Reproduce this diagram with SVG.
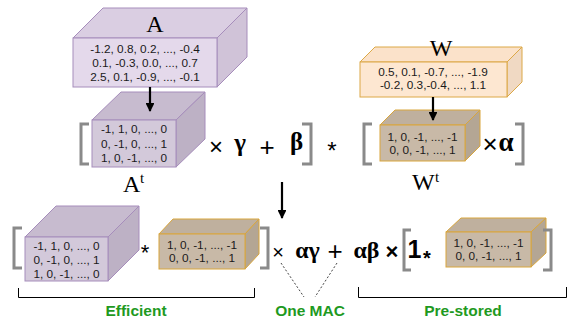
<svg xmlns="http://www.w3.org/2000/svg" width="568" height="320" viewBox="0 0 568 320">
  <defs>
    <marker id="head" viewBox="0 0 10 10" refX="9" refY="5" markerWidth="4" markerHeight="4" markerUnits="strokeWidth" orient="auto">
      <path d="M0,0 L10,5 L0,10 Z" fill="#000"/>
    </marker>
    <style>
      .num { font-family: "Liberation Sans", Arial, sans-serif; font-size: 11.8px; fill: #1a1a1a; text-anchor: middle; }
      .lbl { font-family: "Liberation Serif", "Times New Roman", serif; font-size: 24px; fill: #000; }
      .sup { font-family: "Liberation Serif", "Times New Roman", serif; font-size: 15px; fill: #000; }
      .greek { font-family: "Liberation Serif", "Times New Roman", serif; font-weight: bold; fill: #000; text-anchor: middle; }
      .op { font-family: "Liberation Sans", Arial, sans-serif; fill: #000; text-anchor: middle; }
      .note { font-family: "Liberation Sans", Arial, sans-serif; font-weight: bold; font-size: 15.5px; fill: #1f9a1f; text-anchor: middle; }
      .brk { fill: none; stroke: #8a8a8a; stroke-width: 3; }
      .span { fill: none; stroke: #000; stroke-width: 1; }
      .arrow { fill: none; stroke: #000; stroke-width: 2.2; marker-end: url(#head); }
      .dots { fill: none; stroke: #444; stroke-width: 1; stroke-dasharray: 2 2; }
      /* light purple (full precision activations) */
      .pl-front { fill: #e4d9eb; stroke: #a68dbb; stroke-width: 1; }
      .pl-top { fill: #dacee2; stroke: #a68dbb; stroke-width: 1; }
      .pl-side { fill: #d0c3d8; stroke: #a68dbb; stroke-width: 1; }
      /* darker purple (ternary activations) */
      .pd-front { fill: #d3c9da; stroke: #a68dbb; stroke-width: 1; }
      .pd-top { fill: #c7bbcf; stroke: #a68dbb; stroke-width: 1; }
      .pd-side { fill: #bdb1c5; stroke: #a68dbb; stroke-width: 1; }
      /* light orange (full precision weights) */
      .ol-front { fill: #fde7d1; stroke: #dca846; stroke-width: 1; }
      .ol-top { fill: #fbe2ca; stroke: #dca846; stroke-width: 1; }
      .ol-side { fill: #f0d9c3; stroke: #dca846; stroke-width: 1; }
      /* tan (ternary weights) */
      .t-front { fill: #c8b9a7; stroke: #d9a63c; stroke-width: 1; }
      .t-top { fill: #bfb09e; stroke: #d9a63c; stroke-width: 1; }
      .t-side { fill: #b4a694; stroke: #d9a63c; stroke-width: 1; }
    </style>
  </defs>

  <!-- full precision activations A -->
  <g id="A">
    <path class="pl-top" d="M73,38 L103,8 L247,8 L217,38 Z"/>
    <path class="pl-side" d="M217,38 L247,8 L247,57 L217,87 Z"/>
    <rect class="pl-front" x="73" y="38" width="144" height="49"/>
    <text class="lbl" x="155" y="32" text-anchor="middle">A</text>
    <text class="num" x="145" y="52.5">-1.2, 0.8, 0.2, ..., -0.4</text>
    <text class="num" x="145" y="66.5">0.1, -0.3, 0.0, ..., 0.7</text>
    <text class="num" x="145" y="80.5">2.5, 0.1, -0.9, ..., -0.1</text>
  </g>

  <!-- ternary activations At -->
  <g id="At">
    <path class="pd-top" d="M92,120 L121,92 L205,92 L176,120 Z"/>
    <path class="pd-side" d="M176,120 L205,92 L205,139 L176,167 Z"/>
    <rect class="pd-front" x="92" y="120" width="84" height="47"/>
    <text class="num" x="134" y="133">-1, 1, 0, ..., 0</text>
    <text class="num" x="134" y="147.5">0, -1, 0, ..., 1</text>
    <text class="num" x="134" y="162">1, 0, -1, ..., 0</text>
    <text class="lbl" x="123" y="192">A</text>
    <text class="sup" x="140" y="183">t</text>
  </g>

  <!-- full precision weights W -->
  <g id="W">
    <path class="ol-top" d="M360,62 L375,47 L522,47 L507,62 Z"/>
    <path class="ol-side" d="M507,62 L522,47 L522,82 L507,97 Z"/>
    <rect class="ol-front" x="360" y="62" width="147" height="35"/>
    <text class="lbl" x="441" y="56" text-anchor="middle">W</text>
    <text class="num" x="433" y="76">0.5, 0.1, -0.7, ..., -1.9</text>
    <text class="num" x="433" y="89">-0.2, 0.3,-0.4, ...,  1.1</text>
  </g>

  <!-- ternary weights Wt -->
  <g id="Wt">
    <path class="t-top" d="M380,125 L395,110 L480,110 L465,125 Z"/>
    <path class="t-side" d="M465,125 L480,110 L480,146 L465,161 Z"/>
    <rect class="t-front" x="380" y="125" width="85" height="36"/>
    <text class="num" x="422.5" y="140.5">1, 0, -1, ..., -1</text>
    <text class="num" x="422.5" y="153.5">0, 0, -1, ...,  1</text>
    <text class="lbl" x="412" y="190">W</text>
    <text class="sup" x="435" y="182">t</text>
  </g>

  <!-- row 2 operators: [At x gamma + beta] * [Wt x alpha] -->
  <g id="row2-ops">
    <path class="brk" d="M89,124 H81 V164 H89"/>
    <text class="op" x="216" y="155" font-size="24">×</text>
    <text class="greek" x="240" y="151" font-size="25">γ</text>
    <text class="op" x="267" y="155.5" font-size="26">+</text>
    <text class="greek" x="296.5" y="150" font-size="25">β</text>
    <path class="brk" d="M302,124 H311 V164 H302"/>
    <text class="op" x="332" y="159" font-size="24">*</text>
    <path class="brk" d="M372,124 H364 V164 H372"/>
    <text class="op" x="490" y="153" font-size="26">×</text>
    <text class="greek" x="506" y="151" font-size="27">α</text>
    <path class="brk" d="M515,124 H523 V164 H515"/>
  </g>

  <!-- bottom row: ternary activations -->
  <g id="At-bottom">
    <path class="pd-top" d="M25,237 L56,206 L139,206 L108,237 Z"/>
    <path class="pd-side" d="M108,237 L139,206 L139,250 L108,281 Z"/>
    <rect class="pd-front" x="25" y="237" width="83" height="44"/>
    <text class="num" x="66.5" y="249.5">-1, 1, 0, ..., 0</text>
    <text class="num" x="66.5" y="263.5">0, -1, 0, ..., 1</text>
    <text class="num" x="66.5" y="277.5">1, 0, -1, ..., 0</text>
  </g>

  <!-- bottom row: ternary weights (multiplied with activations) -->
  <g id="Wt-bottom">
    <path class="t-top" d="M159,234 L173,219 L259,219 L245,234 Z"/>
    <path class="t-side" d="M245,234 L259,219 L259,254 L245,269 Z"/>
    <rect class="t-front" x="159" y="234" width="86" height="35"/>
    <text class="num" x="202" y="249">1, 0, -1, ..., -1</text>
    <text class="num" x="202" y="262">0, 0, -1, ...,  1</text>
  </g>

  <!-- bottom row: ternary weights (pre-stored term) -->
  <g id="Wt-prestored">
    <path class="t-top" d="M446,232 L461,218 L546,218 L531,232 Z"/>
    <path class="t-side" d="M531,232 L546,218 L546,253 L531,267 Z"/>
    <rect class="t-front" x="446" y="232" width="85" height="35"/>
    <text class="num" x="488.5" y="247">1, 0, -1, ..., -1</text>
    <text class="num" x="488.5" y="260">0, 0, -1, ...,  1</text>
  </g>

  <!-- bottom row operators -->
  <g id="row3-ops">
    <path class="brk" d="M22,228 H14 V268 H22"/>
    <text class="op" x="145" y="260" font-size="22">*</text>
    <path class="brk" d="M260,228 H268 V268 H260"/>
    <text class="op" x="278" y="259" font-size="20">×</text>
    <text class="greek" x="307.5" y="258" font-size="24">αγ</text>
    <text class="op" x="335" y="260" font-size="26">+</text>
    <text class="greek" x="366.5" y="258" font-size="24">αβ</text>
    <text class="op" x="392" y="259" font-size="22" font-weight="bold">×</text>
    <path class="brk" d="M411,230 H404 V270 H411"/>
    <text class="op" x="414.5" y="258" font-size="25" font-weight="bold">1</text>
    <text class="op" x="427" y="265" font-size="20" font-weight="bold">*</text>
    <path class="brk" d="M543,230 H551 V270 H543"/>
  </g>

  <!-- connectors -->
  <g id="connectors">
    <line class="arrow" x1="150" y1="87" x2="150" y2="111"/>
    <line class="arrow" x1="433" y1="97" x2="433" y2="120"/>
    <line class="arrow" x1="282" y1="182" x2="282" y2="218"/>
    <line class="dots" x1="281" y1="263" x2="304" y2="297"/>
    <line class="dots" x1="337" y1="263" x2="315" y2="297"/>
  </g>

  <!-- annotation braces and labels -->
  <g id="annotations">
    <path class="span" d="M18.5,288 V297.5 H254.5 V288"/>
    <path class="span" d="M358.5,287 V297.5 H566.5 V287"/>
    <text class="note" x="136" y="316">Efficient</text>
    <text class="note" x="310" y="316">One MAC</text>
    <text class="note" x="463" y="316">Pre-stored</text>
  </g>
</svg>
